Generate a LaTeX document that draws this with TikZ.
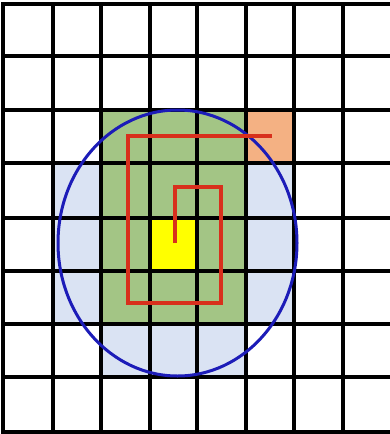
\documentclass[tikz,border=0pt]{standalone}
\definecolor{cellgreen}{HTML}{A3C585}
\definecolor{cellblue}{HTML}{DAE3F3}
\definecolor{cellorange}{HTML}{F4B183}
\definecolor{cellyellow}{HTML}{FFFF00}
\definecolor{ringblue}{HTML}{1C1CB8}
\definecolor{pathred}{HTML}{D8301C}
\tikzset{
  gridline/.style={line width=3.6pt, black, line cap=rect},
  ring/.style={line width=3pt, ringblue},
  spiral/.style={line width=3.4pt, pathred, line join=miter},
}
\begin{document}
\begin{tikzpicture}[x=1pt,y=-1pt]
\useasboundingbox[fill=white] (0,0) rectangle (390,434);
% fills
\fill[cellblue] (53,163) rectangle (101,324);
\fill[cellblue] (246,163) rectangle (294,324);
\fill[cellblue] (101,324) rectangle (246,377);
\fill[cellgreen] (101,110) rectangle (246,324);
\fill[cellyellow] (150,218) rectangle (197,271);
\fill[cellorange] (246,110) rectangle (294,163);
% grid
\foreach \x in {3,53,101,150,197,246,294,343}
  \draw[gridline] (\x,4) -- (\x,432);
\foreach \y in {4,56,110,163,218,271,324,377,432}
  \draw[gridline] (3,\y) -- (390,\y);
% circle
\draw[ring] (177.5,243) ellipse [x radius=119.5, y radius=133];
% spiral
\coordinate (s0) at (175,243);
\coordinate (s1) at (175,187);
\coordinate (s2) at (221,187);
\coordinate (s3) at (221,303);
\coordinate (s4) at (128,303);
\coordinate (s5) at (128,136);
\coordinate (s6) at (272,136);
\draw[spiral] (s0) -- (s1) -- (s2) -- (s3) -- (s4) -- (s5) -- (s6);
\end{tikzpicture}
\end{document}
